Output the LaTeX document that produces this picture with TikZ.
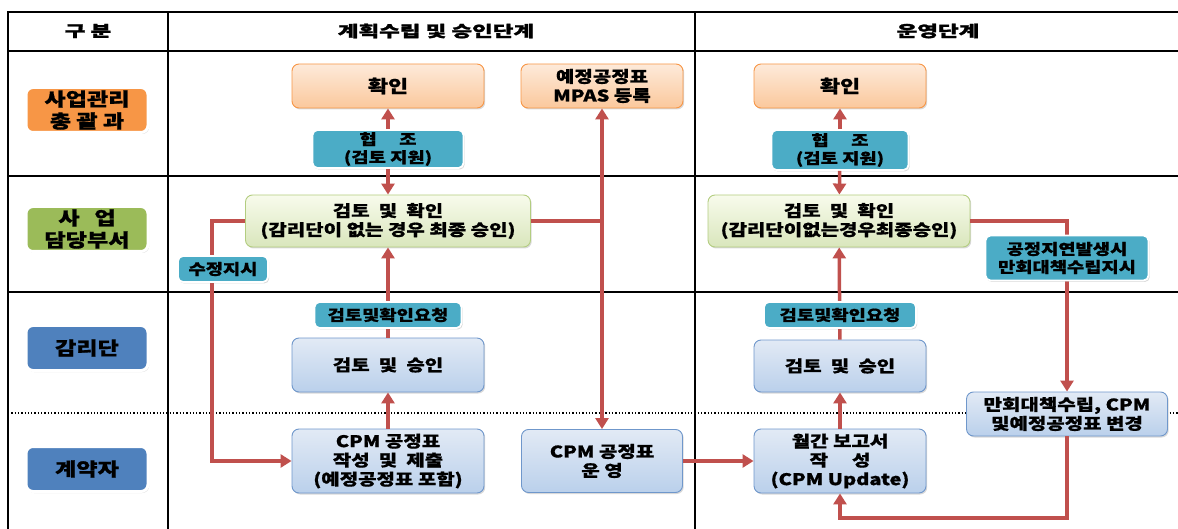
\documentclass[tikz,border=0pt]{standalone}
\usepackage{fontspec}
\usetikzlibrary{arrows.meta,shadows}
\newfontfamily\kr{Noto Sans CJK KR}[FakeStretch=1.25,BoldFeatures={FakeBold=0.8}]
\newfontfamily\krh{Noto Sans CJK KR}[FakeStretch=1.45,BoldFeatures={FakeBold=1.5}]
\definecolor{redline}{HTML}{C0504D}
\definecolor{laneor}{HTML}{F79646}
\definecolor{lanegr}{HTML}{9BBB59}
\definecolor{lanebl}{HTML}{4F81BD}
\definecolor{tagfill}{HTML}{4BACC6}
\definecolor{ortop}{HTML}{FDEADA}
\definecolor{orbot}{HTML}{FBC89C}
\definecolor{grtop}{HTML}{F8FBEC}
\definecolor{grbot}{HTML}{D9E6BC}
\definecolor{grline}{HTML}{B3CD80}
\definecolor{bltop}{HTML}{E2EAF5}
\definecolor{blbot}{HTML}{BAD0EB}
\definecolor{blline}{HTML}{6F97CB}
\begin{document}
\begin{tikzpicture}[x=1pt,y=-1pt,font=\kr\bfseries\fontsize{16}{19}\selectfont,
  shade/.style={drop shadow={shadow xshift=1.2pt,shadow yshift=-1.5pt,opacity=.3}},
  box/.style={draw,rounded corners=7pt,align=center,inner sep=0pt,line width=.9pt,shade},
  orbox/.style={box,draw=laneor,top color=ortop,bottom color=orbot},
  grbox/.style={box,draw=grline,top color=grtop,bottom color=grbot},
  blbox/.style={box,draw=blline,top color=bltop,bottom color=blbot},
  tag/.style={fill=tagfill,draw=white,line width=1.8pt,rounded corners=5pt,align=center,inner sep=0pt,shade,
    font=\kr\bfseries\fontsize{15}{18}\selectfont},
  lane/.style={draw=white,line width=3pt,rounded corners=7pt,align=center,inner sep=0pt,
    minimum width=122pt,minimum height=45pt,font=\kr\bfseries\fontsize{18.5}{22}\selectfont,shade},
  wire/.style={draw=redline,line width=3.5pt},
  arr/.style={wire,-{Triangle[length=11pt,width=13pt]}}]
\useasboundingbox (0,0) rectangle (1178,529);
\draw[line width=2pt](8,529)|-(1178,12);
\foreach \y in {51,176,292}{\draw[line width=2pt](8,\y)--(1178,\y);}
\foreach \x in {168,695}{\draw[line width=2pt](\x,12)--(\x,529);}
\draw[dotted,line width=1.3pt](8,413)--(1178,413);
\begin{scope}[font=\krh\bfseries\fontsize{15.5}{18}\selectfont]
\node (hd0) at (88,31) {구 분};
\node (hd1) at (436,31) {계획수립 및 승인단계};
\node (hd2) at (938,31) {운영단계};
\end{scope}
\node[lane,fill=laneor] (ln1) at (87,110) {사업관리\\총 괄 과};
\node[lane,fill=lanegr] (ln2) at (87,229) {사\hspace{.8em}업\\담당부서};
\node[lane,fill=lanebl] (ln3) at (87,348) {감리단};
\node[lane,fill=lanebl] (ln4) at (87,469) {계약자};
\node[orbox,minimum width=192pt,minimum height=44pt,font=\kr\bfseries\fontsize{17.5}{20}\selectfont] (c2ok) at (388,86) {확인};
\node[orbox,minimum width=162pt,minimum height=44pt] (c2mp) at (602,86) {예정공정표\\MPAS 등록};
\node[tag,minimum width=151pt,minimum height=38pt] (c2co) at (388,149) {협\hspace{1.5em}조\\(검토 지원)};
\node[grbox,minimum width=285pt,minimum height=52pt] (c2rv) at (388,221) {검토~ 및~ 확인\\(감리단이 없는 경우 최종 승인)};
\node[blbox,minimum width=192pt,minimum height=54pt] (c2ap) at (388,365) {검토~ 및~ 승인};
\node[blbox,minimum width=192pt,minimum height=64pt] (c2cpm) at (388,461) {CPM 공정표\\작성~ 및~ 제출\\(예정공정표 포함)};
\node[blbox,minimum width=161pt,minimum height=63pt] (c2op) at (602,461) {CPM 공정표\\운 영};
\node[orbox,minimum width=172pt,minimum height=44pt,font=\kr\bfseries\fontsize{17.5}{20}\selectfont] (c3ok) at (840,86) {확인};
\node[tag,minimum width=137pt,minimum height=40pt] (c3co) at (840,150) {협\hspace{1.5em}조\\(검토 지원)};
\node[grbox,minimum width=262pt,minimum height=52pt] (c3rv) at (839,221) {검토~ 및~ 확인\\(감리단이없는경우최종승인)};
\node[blbox,minimum width=172pt,minimum height=52pt] (c3ap) at (840,366) {검토~ 및~ 승인};
\node[blbox,minimum width=201pt,minimum height=44pt] (c3fx) at (1067,414) {만회대책수립, CPM\\및예정공정표 변경};
\node[blbox,minimum width=172pt,minimum height=64pt] (c3mr) at (840,461) {월간 보고서\\작\hspace{1.5em}성\\(CPM Update)};
\coordinate (c2turn) at (212,221);
\coordinate (c3loop) at (1067,518);
\draw[arr](c2co)--(c2ok);
\draw[arr](c2co)--(c2rv);
\draw[arr](c2ap)--(c2rv);
\draw[arr](c2cpm)--(c2ap);
\draw[arr](c2rv.west)--(c2turn)|-(c2cpm.west);
\draw[wire](c2rv.east)--(c2rv.east-|c2mp.south);
\draw[arr,{Triangle[length=11pt,width=13pt]}-{Triangle[length=11pt,width=13pt]}](c2mp.south)--(c2op.north);
\draw[arr](c2op)--(c3mr);
\draw[arr](c3co)--(c3ok);
\draw[arr](c3co)--(c3rv);
\draw[arr](c3ap)--(c3rv);
\draw[arr](c3mr)--(c3ap);
\draw[arr](c3rv.east)-|(c3fx.north);
\draw[arr](c3fx.south)--(c3loop)-|(c3mr.south);
\node[tag,minimum width=90pt,minimum height=26pt] (c2fix) at (223,269) {수정지시};
\node[tag,minimum width=147pt,minimum height=26pt] (c2rq) at (388,315) {검토및확인요청};
\node[tag,minimum width=152pt,minimum height=26pt] (c3rq) at (840,315) {검토및확인요청};
\node[tag,minimum width=163pt,minimum height=45pt] (c3dl) at (1067,258) {공정지연발생시\\만회대책수립지시};
\end{tikzpicture}
\end{document}
